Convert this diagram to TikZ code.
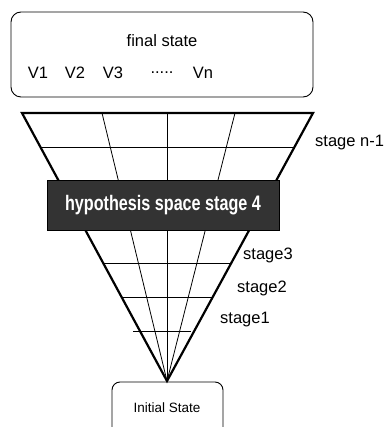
\documentclass[tikz,border=0pt]{standalone}
\usepackage{fontspec}
\setmainfont{Liberation Sans}
\usepackage{xcolor}
\usetikzlibrary{calc}
\definecolor{darkbox}{rgb}{0.2,0.2,0.2}
\tikzset{
  thick edge/.style={line width=2.2pt},
  thin line/.style={line width=0.8pt},
  state box/.style={draw, rounded corners=10pt, line width=0.9pt},
  box text/.style={font=\fontsize{16.5}{16.5}\selectfont},
  stage label/.style={font=\fontsize{16.5}{16.5}\selectfont, anchor=west, inner sep=0pt}
}
\begin{document}
\begin{tikzpicture}[x=1pt, y=-1pt]
    % Rahmen
    \useasboundingbox (0,0) rectangle (386,427);
    \clip (0,0) rectangle (386,427);
    % Endzustand
    \draw[state box] (11,12) rectangle (313,97);
    \node[box text] (final) at (162,41) {final state};
    \node[box text] (v1) at (38,73) {V1};
    \node[box text] (v2) at (75,73) {V2};
    \node[box text] (v3) at (113,73) {V3};
    \node[box text] (dots) at (162,73) {.....};
    \node[box text] (vn) at (203,73) {Vn};
    % Trichter
    \coordinate (apex) at (167,381);
    \coordinate (tl) at (22,113);
    \coordinate (tr) at (313,113);
    \foreach \x in {102,167,235}
        \draw[thin line] (apex) -- (\x,113);
    \foreach \y in {147,263,297}
        \draw[thin line] ($(tl)!{(\y-113)/268}!(apex)$) -- ($(tr)!{(\y-113)/268}!(apex)$);
    \draw[thin line] (133,331) -- (191,331);
    \draw[thick edge, line join=miter] (apex) -- (tl) -- (tr) -- cycle;
    % Hypothesenraum
    \node[draw=black, fill=darkbox, minimum width=232pt, minimum height=50pt, inner sep=0pt,
          text=white, font=\fontsize{21}{21}\selectfont\bfseries] (hyp) at (163,205)
          {\scalebox{0.77}[1]{hypothesis space stage 4}};
    % Stufen
    \node[stage label] (sn) at (315,143) {stage n-1};
    \node[stage label] (s3) at (243,255) {stage3};
    \node[stage label] (s2) at (237,288) {stage2};
    \node[stage label] (s1) at (220,320) {stage1};
    % Anfangszustand
    \draw[state box, rounded corners=8pt] (112,382) rectangle (223,445);
    \node[font=\fontsize{13.5}{13.5}\selectfont] (init) at (167,408) {Initial State};
\end{tikzpicture}
\end{document}
